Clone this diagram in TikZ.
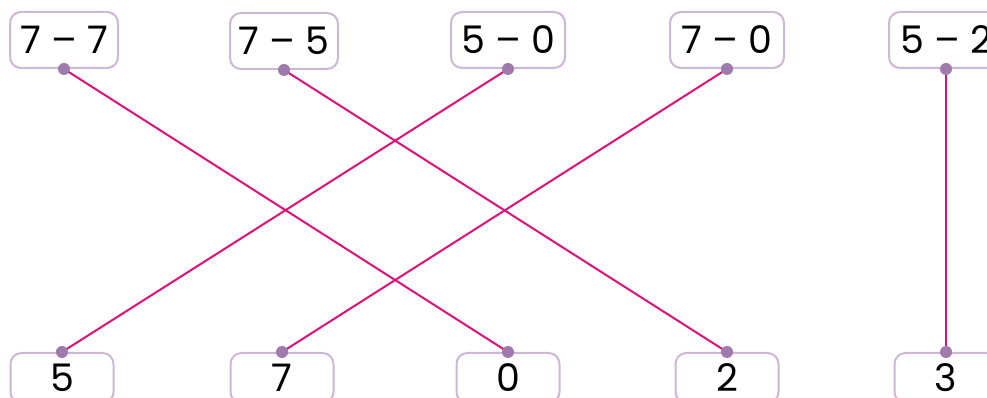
\documentclass[tikz,border=0pt]{standalone}
\usepackage{fontspec}
\setmainfont{Poppins}
\usepackage{xcolor}
\definecolor{boxline}{HTML}{CDB6D6}
\definecolor{dotpurple}{HTML}{A07AAD}
\definecolor{linkpink}{HTML}{E0107A}
\begin{document}
\begin{tikzpicture}[x=1pt,y=1pt]
\tikzstyle{box}=[rounded corners=11pt,draw=boxline,line width=2pt,fill=white,minimum width=108pt,minimum height=56pt,inner sep=0pt,font=\fontsize{38}{40}\selectfont]
\tikzstyle{low}=[box,minimum width=103pt,minimum height=50pt,anchor=north]
\tikzstyle{link}=[draw=linkpink,line width=2pt]
\tikzstyle{dot}=[circle,fill=dotpurple,inner sep=0pt,minimum size=12pt]
\useasboundingbox (0,0) rectangle (987,398);
% top row
\node[box] (a) at (64,358) {7 – 7};
\node[box] (b) at (284,357) {7 – 5};
\node[box,minimum width=114pt] (c) at (508,358) {5 – 0};
\node[box,minimum width=114pt] (d) at (727,358) {7 – 0};
\node[box,minimum width=114pt] (e) at (946,358) {5 – 2};
% bottom row
\node[low] (f) at (62,46) {5};
\node[low] (g) at (282,46) {7};
\node[low] (h) at (508,46) {0};
\node[low] (i) at (727,46) {2};
\node[low] (j) at (946,46) {3};
% links
\draw[link] (a.south)--(h.north); \draw[link] (b.south)--(i.north); \draw[link] (c.south)--(f.north); \draw[link] (d.south)--(g.north); \draw[link] (e.south)--(j.north);
\foreach \n in {a,b,c,d,e} \node[dot] at (\n.south) {};
\foreach \n in {f,g,h,i,j} \node[dot] at (\n.north) {};
\end{tikzpicture}
\end{document}
